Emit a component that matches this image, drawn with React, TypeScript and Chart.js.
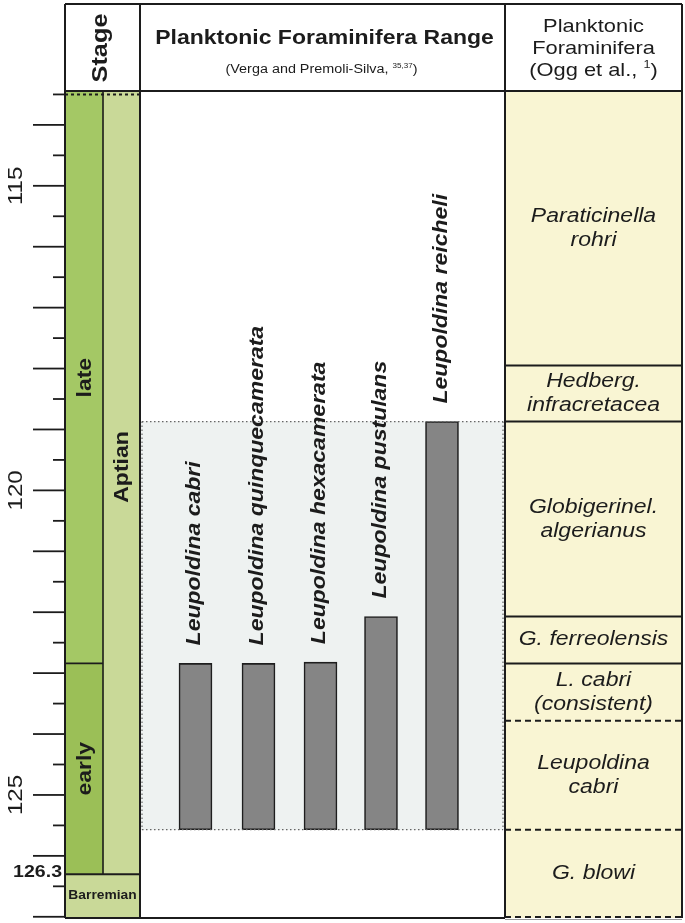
import React, { useEffect, useRef } from 'react';
import { Chart, registerables } from 'chart.js';

Chart.register(...registerables);

// ---------------- data ----------------
const Y_MIN = 113.46;
const Y_MAX = 127.02;
const TICK_LABELS = [115, 120, 125];
const BOUNDARY_LABEL = 126.3;

const SUBSTAGES = ['late', 'early'];
const SUBSTAGE_TOP = [113.46, 122.84];
const SUBSTAGE_BASE = [122.84, 126.3];

const STAGES = ['Aptian', 'Barremian'];
const STAGE_TOP = [113.46, 126.3];
const STAGE_BASE = [126.3, 127.02];

const SPECIES = [
  'Leupoldina cabri',
  'Leupoldina quinquecamerata',
  'Leupoldina hexacamerata',
  'Leupoldina pustulans',
  'Leupoldina reicheli',
];
const SPECIES_TOP = [122.84, 122.84, 122.82, 122.07, 118.87];
const SPECIES_BASE = [125.57, 125.57, 125.57, 125.57, 125.57];

const ZONES = [
  ['Paraticinella', 'rohri'],
  ['Hedberg.', 'infracretacea'],
  ['Globigerinel.', 'algerianus'],
  ['G. ferreolensis'],
  ['L. cabri', '(consistent)'],
  ['Leupoldina', 'cabri'],
  ['G. blowi'],
];
const ZONE_TOP = [113.46, 117.95, 118.87, 122.07, 122.84, 123.78, 125.57];
const ZONE_BASE = [117.95, 118.87, 122.07, 122.84, 123.78, 125.57, 127.02];
const ZONE_BASE_DASHED = [false, false, false, false, true, true, true];

const RANGE_INTERVAL = [118.87, 125.57];

// ---------------- layout (x-scale units = px from left frame) ----------------
const X_MAX = 617;
const COL_SUB = [0, 38];
const COL_STAGE = [38, 75];
const COL_MID = [75, 440];
const COL_ZONE = [440, 617];
const SPECIES_X = [130.5, 193.5, 255.5, 316, 377];
const HEADER_TOP = 4;

const FONT = '"Liberation Sans", Arimo, Arial, sans-serif';
const SX = 1.15;
const INK = '#1c1c1c';

const C_LATE = '#a4c865';
const C_EARLY = '#9bbf57';
const C_STAGE = '#c9d998';
const C_ZONE = '#f9f5d3';
const C_SHADE = '#eef2f1';
const C_BAR = '#858585';

const mid = (c: number[]) => (c[0] + c[1]) / 2;
const wid = (c: number[]) => c[1] - c[0];

function drawText(
  ctx: CanvasRenderingContext2D,
  s: string,
  x: number,
  y: number,
  font: string,
  opts: { rot?: number; align?: CanvasTextAlign; baseline?: CanvasTextBaseline } = {}
) {
  ctx.save();
  ctx.translate(x, y);
  if (opts.rot) ctx.rotate(opts.rot);
  ctx.scale(SX, 1);
  ctx.font = font;
  ctx.fillStyle = INK;
  ctx.textAlign = opts.align || 'center';
  ctx.textBaseline = opts.baseline || 'middle';
  ctx.fillText(s, 0, 0);
  ctx.restore();
}

function drawRich(
  ctx: CanvasRenderingContext2D,
  parts: { t: string; sup?: boolean }[],
  cx: number,
  baseY: number,
  size: number,
  supSize: number
) {
  const widths = parts.map((p) => {
    ctx.font = `${p.sup ? supSize : size}px ${FONT}`;
    return ctx.measureText(p.t).width * SX;
  });
  const total = widths.reduce((a, b) => a + b, 0);
  let x = cx - total / 2;
  parts.forEach((p, i) => {
    ctx.save();
    ctx.translate(x, p.sup ? baseY - size * 0.42 : baseY);
    ctx.scale(SX, 1);
    ctx.font = `${p.sup ? supSize : size}px ${FONT}`;
    ctx.fillStyle = INK;
    ctx.textAlign = 'left';
    ctx.textBaseline = 'alphabetic';
    ctx.fillText(p.t, 0, 0);
    ctx.restore();
    x += widths[i];
  });
}

function line(
  ctx: CanvasRenderingContext2D,
  x1: number,
  y1: number,
  x2: number,
  y2: number,
  w = 2,
  dash: number[] = [],
  color = INK
) {
  ctx.save();
  ctx.strokeStyle = color;
  ctx.lineWidth = w;
  ctx.setLineDash(dash);
  ctx.beginPath();
  ctx.moveTo(x1, y1);
  ctx.lineTo(x2, y2);
  ctx.stroke();
  ctx.restore();
}

const overlay = {
  id: 'overlay',
  afterDatasetsDraw(chart: any) {
    const ctx: CanvasRenderingContext2D = chart.ctx;
    const ys = chart.scales.y;
    const xs = chart.scales.xSub;
    const X = (v: number) => xs.getPixelForValue(v);
    const Y = (v: number) => ys.getPixelForValue(v);
    const top = Y(Y_MIN);
    const bottom = Y(Y_MAX);
    const left = X(0);
    const right = X(X_MAX);

    // dotted outline of the range interval
    const rT = Y(RANGE_INTERVAL[0]);
    const rB = Y(RANGE_INTERVAL[1]);
    const dot = [1.5, 2.5];
    line(ctx, X(COL_MID[0]) + 2, rT, X(COL_MID[1]) - 2, rT, 1.2, dot, '#666');
    line(ctx, X(COL_MID[0]) + 2, rB, X(COL_MID[1]) - 2, rB, 1.2, dot, '#666');
    line(ctx, X(COL_MID[0]) + 2, rT, X(COL_MID[0]) + 2, rB, 1.2, dot, '#666');
    line(ctx, X(COL_MID[1]) - 2, rT, X(COL_MID[1]) - 2, rB, 1.2, dot, '#666');

    // axis ticks (every 0.5 Ma, long at whole Ma)
    for (let v = Math.ceil(Y_MIN * 2) / 2; v <= Y_MAX + 1e-9; v += 0.5) {
      const yy = Y(v);
      const len = Math.abs(v - Math.round(v)) < 1e-6 ? 32 : 12;
      line(ctx, left - len, yy, left, yy, 1.8);
    }
    TICK_LABELS.forEach((v) => {
      drawText(ctx, String(v), 16, Y(v), `21px ${FONT}`, { rot: -Math.PI / 2 });
    });
    drawText(ctx, String(BOUNDARY_LABEL), 62, Y(BOUNDARY_LABEL) - 2, `bold 17px ${FONT}`, {
      align: 'right',
    });

    // stage column lines
    line(ctx, X(COL_SUB[1]), top, X(COL_SUB[1]), Y(SUBSTAGE_BASE[1]), 1.6);
    line(ctx, X(COL_SUB[0]), Y(SUBSTAGE_BASE[0]), X(COL_SUB[1]), Y(SUBSTAGE_BASE[0]), 1.6);
    line(ctx, X(COL_SUB[0]), Y(STAGE_TOP[1]), X(COL_STAGE[1]), Y(STAGE_TOP[1]), 2);
    line(ctx, X(COL_SUB[0]), top + 2.5, X(COL_STAGE[1]), top + 2.5, 2, [3, 3]);

    // zone boundaries
    ZONE_BASE.forEach((v, i) => {
      if (i === ZONE_BASE.length - 1) return;
      const yy = Y(v);
      line(ctx, X(COL_ZONE[0]), yy, right, yy, 2, ZONE_BASE_DASHED[i] ? [6, 4] : []);
    });

    // frame
    line(ctx, left, HEADER_TOP, right, HEADER_TOP, 2);
    line(ctx, left, top - 1, right, top - 1, 2);
    line(ctx, left, bottom, X(COL_ZONE[0]), bottom, 2);
    line(ctx, X(COL_ZONE[0]), bottom - 1, right, bottom - 1, 2, [6, 4]);
    line(ctx, X(COL_ZONE[0]), bottom + 1.5, right, bottom + 1.5, 1, [], '#999');
    [0, COL_STAGE[1], COL_MID[1], X_MAX].forEach((v) => {
      line(ctx, X(v), HEADER_TOP, X(v), bottom, 2);
    });

    // header texts
    drawText(ctx, 'Stage', mid([X(COL_SUB[0]), X(COL_STAGE[1])]) - 2, 48, `bold 22px ${FONT}`, {
      rot: -Math.PI / 2,
    });
    drawText(ctx, 'Planktonic Foraminifera Range', mid([X(COL_MID[0]), X(COL_MID[1])]) + 2, 44, `bold 20px ${FONT}`, {
      baseline: 'alphabetic',
    });
    drawRich(
      ctx,
      [{ t: '(Verga and Premoli-Silva, ' }, { t: '35,37', sup: true }, { t: ')' }],
      mid([X(COL_MID[0]), X(COL_MID[1])]) - 1,
      73,
      12.5,
      7
    );
    const zc = mid([X(COL_ZONE[0]), X(COL_ZONE[1])]);
    drawText(ctx, 'Planktonic', zc, 32, `19px ${FONT}`, { baseline: 'alphabetic' });
    drawText(ctx, 'Foraminifera', zc, 54, `19px ${FONT}`, { baseline: 'alphabetic' });
    drawRich(ctx, [{ t: '(Ogg et al., ' }, { t: '1', sup: true }, { t: ')' }], zc, 76, 19, 11);

    // stage labels
    drawText(ctx, SUBSTAGES[0], X(mid(COL_SUB)) + 1, mid([Y(SUBSTAGE_TOP[0]), Y(SUBSTAGE_BASE[0])]), `bold 20px ${FONT}`, {
      rot: -Math.PI / 2,
    });
    drawText(ctx, SUBSTAGES[1], X(mid(COL_SUB)) + 1, mid([Y(SUBSTAGE_TOP[1]), Y(SUBSTAGE_BASE[1])]), `bold 20px ${FONT}`, {
      rot: -Math.PI / 2,
    });
    drawText(ctx, STAGES[0], X(mid(COL_STAGE)) + 0.5, 467, `bold 20px ${FONT}`, {
      rot: -Math.PI / 2,
    });
    drawText(ctx, STAGES[1], X(mid([COL_SUB[0], COL_STAGE[1]])), mid([Y(STAGE_TOP[1]), Y(STAGE_BASE[1])]), `bold 12px ${FONT}`);

    // species labels
    SPECIES.forEach((s, i) => {
      drawText(ctx, s, X(SPECIES_X[i]) - 1, Y(SPECIES_TOP[i]) - 18, `italic bold 20px ${FONT}`, {
        rot: -Math.PI / 2,
        align: 'left',
      });
    });

    // zone labels
    ZONES.forEach((lines, i) => {
      const cy = mid([Y(ZONE_TOP[i]), Y(ZONE_BASE[i])]);
      const lh = 24;
      lines.forEach((t, j) => {
        drawText(ctx, t, zc, cy + (j - (lines.length - 1) / 2) * lh, `italic 20px ${FONT}`);
      });
    });
  },
};

export default function App() {
  const ref = useRef<HTMLCanvasElement>(null);
  useEffect(() => {
    document.body.style.margin = '0';
    document.body.style.overflow = 'hidden';
    const xAxis = {
      type: 'linear',
      min: 0,
      max: X_MAX,
      display: false,
      offset: false,
      grid: { offset: false },
    };
    const common = { yAxisID: 'y', grouped: false, borderWidth: 0 };
    const chart = new Chart(ref.current as HTMLCanvasElement, {
      type: 'bar',
      data: {
        datasets: [
          {
            ...common,
            label: 'species',
            xAxisID: 'xSp',
            data: SPECIES.map((_, i) => ({ x: SPECIES_X[i], y: [SPECIES_TOP[i], SPECIES_BASE[i]] })),
            backgroundColor: C_BAR,
            borderColor: '#1e1e1e',
            borderWidth: 1.6,
            borderSkipped: false,
            barThickness: 33,
            order: 1,
          },
          {
            ...common,
            label: 'range interval',
            xAxisID: 'xMid',
            data: [{ x: mid(COL_MID), y: [RANGE_INTERVAL[0], RANGE_INTERVAL[1]] }],
            backgroundColor: C_SHADE,
            barThickness: wid(COL_MID),
            order: 2,
          },
          {
            ...common,
            label: 'substages',
            xAxisID: 'xSub',
            data: SUBSTAGES.map((_, i) => ({ x: mid(COL_SUB), y: [SUBSTAGE_TOP[i], SUBSTAGE_BASE[i]] })),
            backgroundColor: [C_LATE, C_EARLY],
            barThickness: wid(COL_SUB),
            order: 3,
          },
          {
            ...common,
            label: 'Aptian',
            xAxisID: 'xStage',
            data: [{ x: mid(COL_STAGE), y: [STAGE_TOP[0], STAGE_BASE[0]] }],
            backgroundColor: C_STAGE,
            barThickness: wid(COL_STAGE),
            order: 4,
          },
          {
            ...common,
            label: 'Barremian',
            xAxisID: 'xBar',
            data: [{ x: mid([COL_SUB[0], COL_STAGE[1]]), y: [STAGE_TOP[1], STAGE_BASE[1]] }],
            backgroundColor: C_STAGE,
            barThickness: COL_STAGE[1] - COL_SUB[0],
            order: 5,
          },
          {
            ...common,
            label: 'zones',
            xAxisID: 'xZone',
            data: ZONES.map((_, i) => ({ x: mid(COL_ZONE), y: [ZONE_TOP[i], ZONE_BASE[i]] })),
            backgroundColor: C_ZONE,
            barThickness: wid(COL_ZONE),
            order: 6,
          },
        ] as any,
      },
      options: {
        animation: false,
        responsive: true,
        maintainAspectRatio: false,
        layout: { padding: { left: 65, right: 3, top: 92, bottom: 5 } },
        plugins: { legend: { display: false }, tooltip: { enabled: false } },
        scales: {
          xSp: { ...xAxis },
          xMid: { ...xAxis },
          xSub: { ...xAxis },
          xStage: { ...xAxis },
          xBar: { ...xAxis },
          xZone: { ...xAxis },
          y: { type: 'linear', reverse: true, min: Y_MIN, max: Y_MAX, display: false, stacked: false },
        } as any,
      },
      plugins: [overlay],
    });
    return () => chart.destroy();
  }, []);
  return (
    <div style={{ width: 685, height: 923, position: 'relative' }}>
      <canvas ref={ref} />
    </div>
  );
}
